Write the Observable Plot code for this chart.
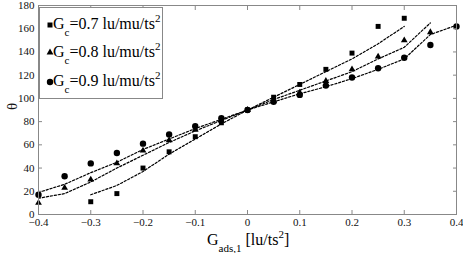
<!DOCTYPE html>
<html>
<head>
<meta charset="utf-8">
<script src="https://cdn.jsdelivr.net/npm/d3@7"></script>
<script src="https://cdn.jsdelivr.net/npm/@observablehq/plot@0.6"></script>
<style>
  html, body { margin: 0; padding: 0; background: white; }
  #wrap { position: relative; width: 463px; height: 253px; font-family: 'Liberation Serif', serif; color: #000; }
  #legend { position: absolute; left: 39px; top: 7px; width: 124px; height: 92px; box-sizing: border-box; border: 1px solid #888; background: white; }
  .row { position: absolute; left: 13px; font-size: 16px; line-height: 16px; white-space: nowrap; font-family: 'Liberation Serif', serif; }
  .sub { font-size: 11px; position: relative; top: 7px; }
  .sup { font-size: 11px; position: relative; top: -7px; }
  #xlabel { position: absolute; left: 207px; top: 232px; font-size: 16px; line-height: 16px; white-space: nowrap; font-family: 'Liberation Serif', serif; }
  #legend svg { position: absolute; left: 0; top: 0; }
  svg text { font-family: 'Liberation Serif', serif; }
</style>
</head>
<body>
<div id="wrap"></div>
<script>
// ---- data ----
const xTicks = [-0.4, -0.3, -0.2, -0.1, 0, 0.1, 0.2, 0.3, 0.4];
const yTicks = [0, 20, 40, 60, 80, 100, 120, 140, 160, 180];

// Gc = 0.7 (squares)
const sqX = [-0.3, -0.25, -0.2, -0.15, -0.1, -0.05, 0, 0.05, 0.1, 0.15, 0.2, 0.25, 0.3];
const sqY = [11, 18, 40, 54, 67, 79, 90, 101, 112, 125, 139, 162, 169];
const sqFitY = [17, 25, 37, 52, 65, 78, 90, 101, 112, 123, 134, 147, 162];

// Gc = 0.8 (triangles)
const trX = [-0.4, -0.35, -0.3, -0.25, -0.2, -0.15, -0.1, -0.05, 0, 0.05, 0.1, 0.15, 0.2, 0.25, 0.3, 0.35];
const trY = [10, 23, 30, 44, 55, 64, 73, 81, 90, 98, 105, 115, 125, 136, 150, 157];
const trFitY = [14, 18, 28, 40, 51, 62, 72, 81, 90, 99, 107, 115, 123, 134, 144, 165];

// Gc = 0.9 (circles)
const ciX = [-0.4, -0.35, -0.3, -0.25, -0.2, -0.15, -0.1, -0.05, 0, 0.05, 0.1, 0.15, 0.2, 0.25, 0.3, 0.35, 0.4];
const ciY = [17, 33, 44, 53, 61, 69, 76, 83, 90, 97, 103, 111, 118, 126, 135, 146, 162];
const ciFitY = [19, 26, 36, 45, 56, 65, 74, 82, 90, 97, 104, 110, 117, 125, 134, 155, 163];

const pts = (xs, ys) => xs.map((x, i) => ({x, y: ys[i]}));
const fmt = d3.format("");

const dash = {x: "x", y: "y", stroke: "black", strokeWidth: 1.2, strokeDasharray: "2.2,1.8"};

const chart = Plot.plot({
  width: 463,
  height: 253,
  marginLeft: 38,
  marginRight: 7,
  marginTop: 5,
  marginBottom: 39,
  style: {fontFamily: "'Liberation Serif', serif", fontSize: "11px", background: "white", color: "black"},
  x: {domain: [-0.4, 0.4]},
  y: {domain: [0, 180]},
  marks: [
    Plot.line(pts(sqX, sqFitY), dash),
    Plot.line(pts(trX, trFitY), dash),
    Plot.line(pts(ciX, ciFitY), dash),
    Plot.dot(pts(sqX, sqY), {x: "x", y: "y", symbol: "square", r: 2.8, fill: "black"}),
    Plot.dot(pts(trX, trY), {x: "x", y: "y", symbol: "triangle", r: 2.5, fill: "black"}),
    Plot.dot(pts(ciX, ciY), {x: "x", y: "y", symbol: "circle", r: 3.2, fill: "black"}),
    Plot.axisX({anchor: "bottom", ticks: xTicks, tickSize: -4, fill: "none", stroke: "#888", label: null}),
    Plot.axisX({anchor: "top", ticks: xTicks, tickSize: -4, fill: "none", stroke: "#888", label: null}),
    Plot.axisY({anchor: "left", ticks: yTicks, tickSize: -4, fill: "none", stroke: "#888", label: null}),
    Plot.axisY({anchor: "right", ticks: yTicks, tickSize: -4, fill: "none", stroke: "#888", label: null}),
    Plot.axisX({anchor: "bottom", ticks: xTicks, tickSize: 0, tickPadding: 4, tickFormat: fmt, fill: "#111", label: null}),
    Plot.axisY({anchor: "left", ticks: yTicks, tickSize: 0, tickPadding: 4, tickFormat: fmt, fill: "#111", label: null}),
    Plot.frame({stroke: "#888"}),
    Plot.text(["θ"], {frameAnchor: "left", dx: -26, rotate: -90, fontSize: 15, fill: "#111"})
  ]
});

const wrap = document.getElementById("wrap");
wrap.appendChild(chart);

const legendItems = [
  {val: "0.7"},
  {val: "0.8"},
  {val: "0.9"}
];
const leg = document.createElement("div");
leg.id = "legend";
leg.innerHTML = `<svg width="122" height="90">
  <rect x="7.5" y="14.5" width="5" height="5" fill="black"></rect>
  <path d="M10,40.5 L13.4,46.5 L6.6,46.5 Z" fill="black"></path>
  <circle cx="10" cy="74" r="3.2" fill="black"></circle>
</svg>` + legendItems.map((d, i) =>
  `<div class="row" style="top:${7.6 + i * 28.8}px">G<span class="sub">c</span>=${d.val} lu/mu/ts<span class="sup">2</span></div>`
).join("");
wrap.appendChild(leg);

const xl = document.createElement("div");
xl.id = "xlabel";
xl.innerHTML = `G<span class="sub">ads,1</span> [lu/ts<span class="sup">2</span>]`;
wrap.appendChild(xl);
</script>
</body>
</html>
